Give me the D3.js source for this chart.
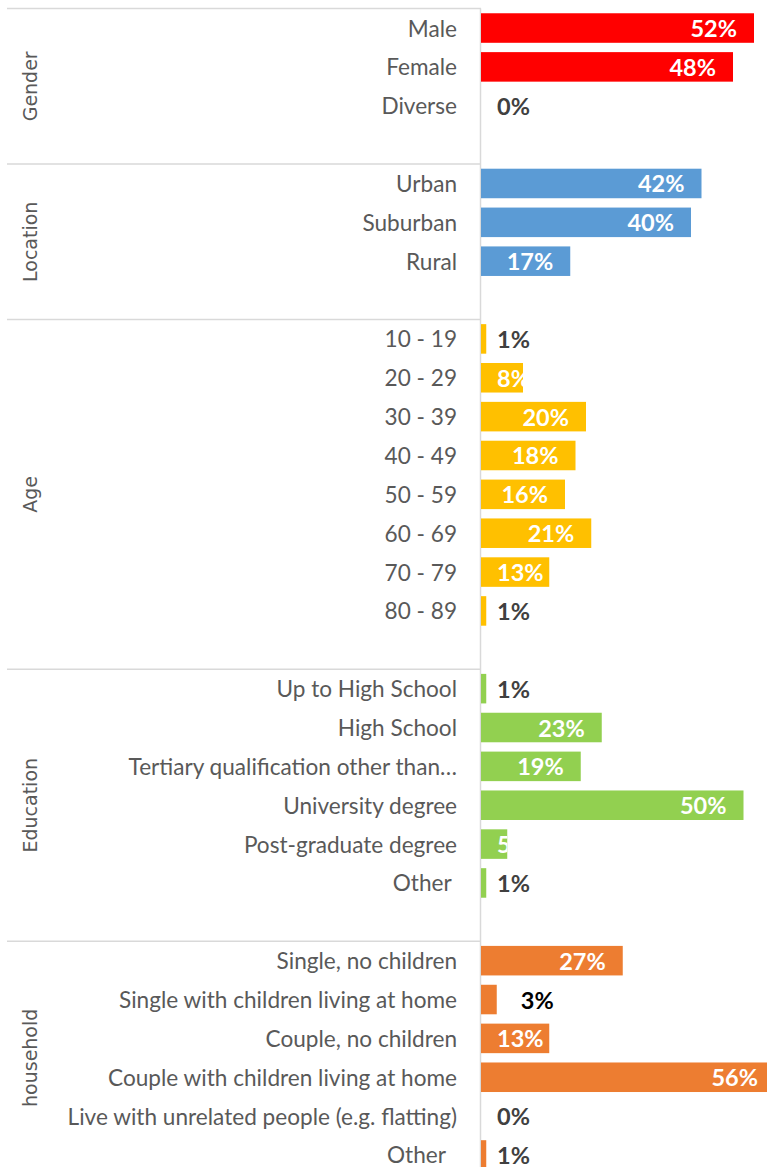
<!DOCTYPE html>
<html>
<head>
<meta charset="utf-8">
<script src="https://cdn.jsdelivr.net/npm/d3@7"></script>
<style>
  html, body { margin: 0; padding: 0; background: #fff; overflow: hidden; }
  svg { display: block; }
  .cat { font-family: Lato, "Open Sans", sans-serif; font-size: 22.6px; fill: #595959; white-space: pre; }
  .val { font-family: Lato, "Open Sans", sans-serif; font-size: 23.5px; font-weight: bold; }
  .grp { font-family: "DejaVu Sans", sans-serif; font-size: 19px; fill: #595959; }
</style>
</head>
<body>
<div id="chart"></div>
<script>
// Respondent profile, share of respondents per answer (%)
const groupNames = ["Gender", "Location", "Age", "Education", "household"];

const genderCategories = ["Male", "Female", "Diverse"];
const genderValues = [52, 48, 0];

const locationCategories = ["Urban", "Suburban", "Rural"];
const locationValues = [42, 40, 17];

const ageCategories = ["10 - 19", "20 - 29", "30 - 39", "40 - 49", "50 - 59", "60 - 69", "70 - 79", "80 - 89"];
const ageValues = [1, 8, 20, 18, 16, 21, 13, 1];

const educationCategories = ["Up to High School", "High School", "Tertiary qualification other than\u2026",
  "University degree", "Post-graduate degree", "Other "];
const educationValues = [1, 23, 19, 50, 5, 1];

const householdCategories = ["Single, no children", "Single with children living at home", "Couple, no children",
  "Couple with children living at home", "Live with unrelated people (e.g. flatting)", "Other  "];
const householdValues = [27, 3, 13, 56, 0, 1];

const groupColors = ["#ff0000", "#5b9bd5", "#ffc000", "#92d050", "#ed7d31"];

const W = 767, H = 1167;
const groupCats = [genderCategories, locationCategories, ageCategories, educationCategories, householdCategories];
const groupVals = [genderValues, locationValues, ageValues, educationValues, householdValues];

// Flatten into rows; each group but the last is followed by an empty spacer row
const rows = [];
const groupSpans = [];
groupNames.forEach((g, gi) => {
  const start = rows.length;
  groupCats[gi].forEach((c, ci) => rows.push({ key: g + "|" + c, label: c, value: groupVals[gi][ci], group: gi }));
  if (gi < groupNames.length - 1) rows.push({ key: g + "|spacer", label: "", value: null, group: gi });
  groupSpans.push({ name: g, start: start, end: rows.length });
});

const top0 = 8.6, step = 38.86;
const y = d3.scaleBand()
  .domain(rows.map(r => r.key))
  .range([top0, top0 + step * rows.length])
  .paddingInner(0.24)
  .paddingOuter(0.12);

const x0 = 481;
const x = d3.scaleLinear().domain([0, 100]).range([x0, x0 + 525]);

const svg = d3.select("#chart").append("svg").attr("width", W).attr("height", H);
const defs = svg.append("defs");

// Group separators
const boundaryY = i => y(rows[i].key) - (y.step() - y.bandwidth()) / 2;
svg.append("g").selectAll("line")
  .data(groupSpans)
  .join("line")
  .attr("x1", 7).attr("x2", x0)
  .attr("y1", d => boundaryY(d.start)).attr("y2", d => boundaryY(d.start))
  .attr("stroke", "#d9d9d9").attr("stroke-width", 1.5);

// Category axis line
svg.append("line")
  .attr("x1", x0 - 0.5).attr("x2", x0 - 0.5)
  .attr("y1", boundaryY(0)).attr("y2", H)
  .attr("stroke", "#d9d9d9").attr("stroke-width", 1.5);

// Group titles, rotated
svg.append("g").selectAll("text")
  .data(groupSpans)
  .join("text")
  .attr("class", "grp")
  .attr("transform", d => {
    const cy = (boundaryY(d.start) + top0 + step * d.end) / 2;
    return `translate(30,${cy}) rotate(-90)`;
  })
  .attr("text-anchor", "middle")
  .attr("dominant-baseline", "central")
  .text(d => d.name);

const dataRows = rows.filter(r => r.value !== null);

// Category labels
svg.append("g").selectAll("text")
  .data(dataRows)
  .join("text")
  .attr("class", "cat")
  .attr("x", 457)
  .attr("y", d => y(d.key) + y.bandwidth() / 2)
  .attr("text-anchor", "end")
  .attr("dominant-baseline", "central")
  .text(d => d.label);

// Bars
svg.append("g").selectAll("rect")
  .data(dataRows)
  .join("rect")
  .attr("x", x(0))
  .attr("y", d => y(d.key))
  .attr("width", d => x(d.value) - x(0))
  .attr("height", y.bandwidth())
  .attr("fill", d => groupColors[d.group]);

// Value labels: inside the bar end (clipped to the bar) when the bar is wide enough, otherwise beside it
dataRows.forEach((d, i) => {
  const cy = y(d.key) + y.bandwidth() / 2;
  const end = x(d.value);
  const inside = d.value >= 5;
  let t;
  if (inside) {
    const id = "clip" + i;
    defs.append("clipPath").attr("id", id).append("rect")
      .attr("x", x(0)).attr("y", y(d.key)).attr("width", end - x(0)).attr("height", y.bandwidth());
    t = svg.append("text").attr("clip-path", `url(#${id})`).attr("fill", "#fff");
  } else {
    t = svg.append("text").attr("fill", d.value >= 2 ? "#000" : "#404040");
  }
  t.attr("class", "val").attr("y", cy).attr("dominant-baseline", "central").text(d.value + "%");
  const w = t.node().getComputedTextLength();
  let tx;
  if (inside) tx = Math.max(x(0) + 16, end - 17 - w);
  else tx = d.value >= 2 ? end + 24 : x(0) + 16;
  t.attr("x", tx);
});
</script>
</body>
</html>
